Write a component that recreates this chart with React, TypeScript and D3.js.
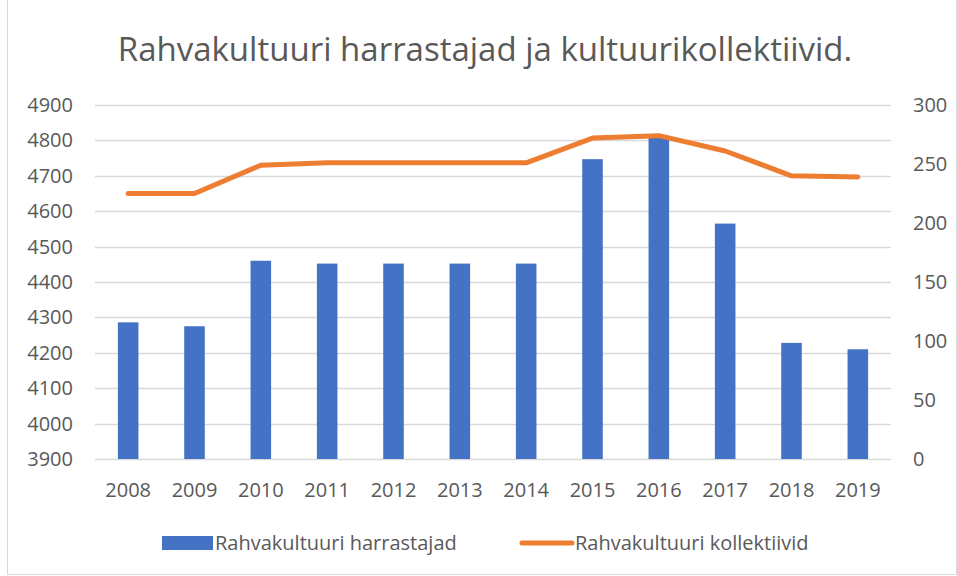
import { useRef, useEffect } from "react";
import * as d3 from "d3";

const years = ["2008", "2009", "2010", "2011", "2012", "2013", "2014", "2015", "2016", "2017", "2018", "2019"];
const harrastajad = [4286, 4275, 4460, 4452, 4452, 4452, 4452, 4747, 4812, 4565, 4228, 4210];
const kollektiivid = [225, 225, 249, 251, 251, 251, 251, 272, 274, 261, 240, 239];
const leftTicks = [3900, 4000, 4100, 4200, 4300, 4400, 4500, 4600, 4700, 4800, 4900];
const rightTicks = [0, 50, 100, 150, 200, 250, 300];
const title = "Rahvakultuuri harrastajad ja kultuurikollektiivid.";
const seriesNames = ["Rahvakultuuri harrastajad", "Rahvakultuuri kollektiivid"];

export default function App() {
  const ref = useRef<SVGSVGElement>(null);

  useEffect(() => {
    const width = 957,
      height = 576;
    const margin = { top: 105, right: 66, bottom: 117, left: 95 };
    const font = "'Open Sans', sans-serif";
    const textColor = "#595959";
    const fs = 20;

    const svg = d3.select(ref.current);
    svg.selectAll("*").remove();

    svg
      .append("rect")
      .attr("x", 7.5)
      .attr("y", -1)
      .attr("width", width - 8)
      .attr("height", height - 0.5)
      .attr("fill", "#fff")
      .attr("stroke", "#d9d9d9");

    const x = d3
      .scaleBand()
      .domain(years)
      .range([margin.left, width - margin.right])
      .paddingInner(0.69)
      .paddingOuter(0.345);
    const y = d3
      .scaleLinear()
      .domain([3900, 4900])
      .range([height - margin.bottom, margin.top]);
    const y2 = d3
      .scaleLinear()
      .domain([0, 300])
      .range([height - margin.bottom, margin.top]);

    // gridlines
    svg
      .append("g")
      .selectAll("line")
      .data(leftTicks)
      .join("line")
      .attr("x1", margin.left)
      .attr("x2", width - margin.right)
      .attr("y1", (d) => Math.round(y(d)) + 0.5)
      .attr("y2", (d) => Math.round(y(d)) + 0.5)
      .attr("stroke", "#d9d9d9")
      .attr("stroke-width", 1.3);

    // bars
    svg
      .append("g")
      .selectAll("rect")
      .data(harrastajad)
      .join("rect")
      .attr("x", (d, i) => x(years[i])!)
      .attr("width", x.bandwidth())
      .attr("y", (d) => y(d))
      .attr("height", (d) => y(3900) - y(d))
      .attr("fill", "#4472c4");

    // line
    const line = d3
      .line<number>()
      .x((d, i) => x(years[i])! + x.bandwidth() / 2)
      .y((d) => y2(d));
    svg
      .append("path")
      .datum(kollektiivid)
      .attr("d", line)
      .attr("fill", "none")
      .attr("stroke", "#ed7d31")
      .attr("stroke-width", 5)
      .attr("stroke-linecap", "round")
      .attr("stroke-linejoin", "round");

    // left axis labels
    svg
      .append("g")
      .selectAll("text")
      .data(leftTicks)
      .join("text")
      .attr("x", 73)
      .attr("y", (d) => y(d))
      .attr("dy", "0.35em")
      .attr("text-anchor", "end")
      .attr("font-family", font)
      .attr("font-size", fs)
      .attr("fill", textColor)
      .text((d) => d);

    // right axis labels
    svg
      .append("g")
      .selectAll("text")
      .data(rightTicks)
      .join("text")
      .attr("x", 913)
      .attr("y", (d) => y2(d))
      .attr("dy", "0.35em")
      .attr("text-anchor", "start")
      .attr("font-family", font)
      .attr("font-size", fs)
      .attr("fill", textColor)
      .text((d) => d);

    // x labels
    svg
      .append("g")
      .selectAll("text")
      .data(years)
      .join("text")
      .attr("x", (d) => x(d)! + x.bandwidth() / 2)
      .attr("y", 490)
      .attr("dy", "0.35em")
      .attr("text-anchor", "middle")
      .attr("font-family", font)
      .attr("font-size", fs)
      .attr("fill", textColor)
      .text((d) => d);

    // title
    svg
      .append("text")
      .attr("x", 485)
      .attr("y", 49)
      .attr("dy", "0.35em")
      .attr("text-anchor", "middle")
      .attr("font-family", font)
      .attr("font-size", 33)
      .attr("fill", textColor)
      .text(title);

    // legend
    const lg = svg.append("g");
    lg.append("rect")
      .attr("x", 162)
      .attr("y", 536)
      .attr("width", 51)
      .attr("height", 14)
      .attr("fill", "#4472c4");
    lg.append("text")
      .attr("x", 215)
      .attr("y", 543)
      .attr("dy", "0.35em")
      .attr("font-family", font)
      .attr("font-size", fs)
      .attr("fill", textColor)
      .text(seriesNames[0]);
    lg.append("line")
      .attr("x1", 522)
      .attr("x2", 572)
      .attr("y1", 543)
      .attr("y2", 543)
      .attr("stroke", "#ed7d31")
      .attr("stroke-width", 5)
      .attr("stroke-linecap", "round");
    lg.append("text")
      .attr("x", 575)
      .attr("y", 543)
      .attr("dy", "0.35em")
      .attr("font-family", font)
      .attr("font-size", fs)
      .attr("fill", textColor)
      .text(seriesNames[1]);
  }, []);

  return (
    <svg
      ref={ref}
      width={957}
      height={576}
      style={{ position: "absolute", left: 0, top: 0, background: "#fff" }}
    ></svg>
  );
}
